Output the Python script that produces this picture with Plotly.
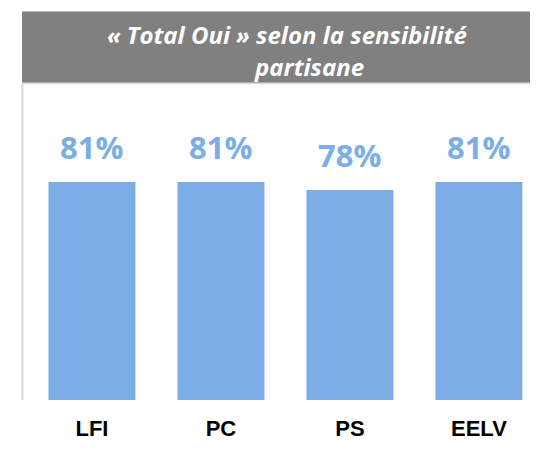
import plotly.graph_objects as go

categories = ["LFI", "PC", "PS", "EELV"]
values = [81, 81, 78, 81]
value_labels = ["81%", "81%", "78%", "81%"]
title_lines = ["« Total Oui » selon la sensibilité", "partisane"]

BAR = "#7DADE6"
LABEL = "#7BAEE6"

# page body has an 8px margin: figure is drawn at (8, 8)
W, H = 530, 446

fig = go.Figure()
fig.add_trace(go.Bar(
    x=categories, y=values,
    marker=dict(color=BAR, line=dict(width=0)),
    hoverinfo="skip",
))

for c, v, t in zip(categories, values, value_labels):
    fig.add_annotation(
        x=c, y=v, text=t, showarrow=False,
        xanchor="center", yanchor="middle", yshift=35,
        font=dict(family="Open Sans", size=31, color=LABEL, weight="bold"),
    )

# header box
fig.add_shape(type="rect", xref="paper", yref="paper",
              x0=14/W, x1=1.0, y0=1-85/H, y1=1-4/H,
              fillcolor="#808080", line=dict(width=0), layer="above")
# light line below header
fig.add_shape(type="line", xref="paper", yref="paper",
              x0=14/W, x1=1.0, y0=1-86/H, y1=1-86/H,
              line=dict(color="#D9D9D9", width=1.5))
# left border
fig.add_shape(type="line", xref="paper", yref="paper",
              x0=14.5/W, x1=14.5/W, y0=0, y1=1-85/H,
              line=dict(color="#D9D9D9", width=2))

fig.add_annotation(
    xref="paper", yref="paper", x=279/W, y=1-30/H,
    text=title_lines[0], showarrow=False, xanchor="center", yanchor="middle",
    font=dict(family="Open Sans", size=24, color="white", weight="bold", style="italic"),
)
fig.add_annotation(
    xref="paper", yref="paper", x=301/W, y=1-66/H,
    text=title_lines[1], showarrow=False, xanchor="center", yanchor="middle",
    font=dict(family="Open Sans", size=24, color="white", weight="bold", style="italic"),
)

fig.update_layout(
    width=W, height=H,
    margin=dict(l=0, r=0, t=0, b=54),
    paper_bgcolor="white", plot_bgcolor="white",
    bargap=0.326,
    showlegend=False,
    xaxis=dict(
        range=[-0.651, 3.458], showgrid=False, zeroline=False, showline=False,
        ticks="", tickfont=dict(family="Arial", size=22, color="black", weight="bold"),
        ticklabelstandoff=13,
    ),
    yaxis=dict(range=[0, 145.65], visible=False),
)

fig.write_html("out.html")
